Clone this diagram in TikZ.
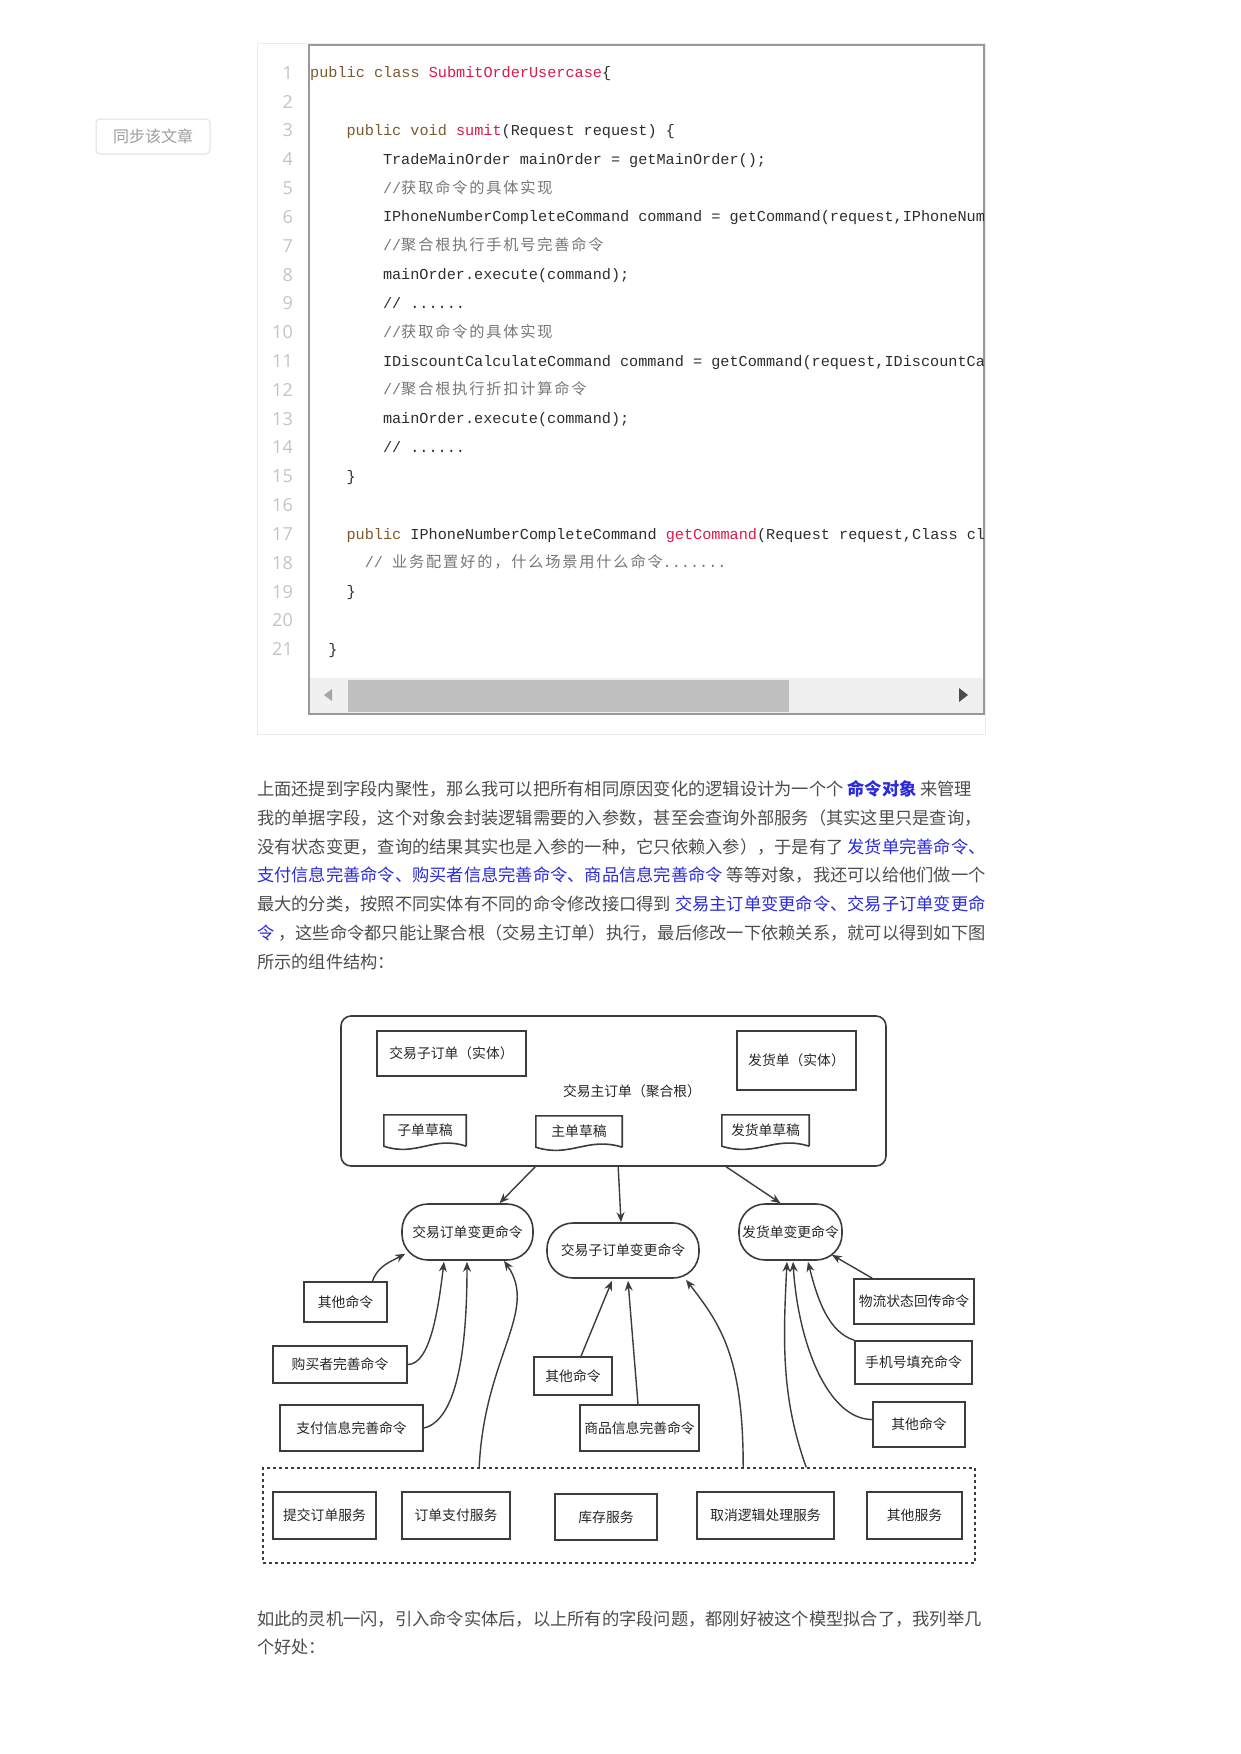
\documentclass[tikz,border=0pt]{standalone}
\usepackage{fontspec}
\usetikzlibrary{arrows.meta,calc}
\newfontfamily\cjk{Noto Sans CJK SC}
\newfontfamily\cjkc[LetterSpace=12.0]{Noto Sans CJK SC}
\newfontfamily\mono{Liberation Mono}
\newfontfamily\numfont{Open Sans}
\definecolor{kwc}{HTML}{7D5A2C}
\definecolor{fnc}{HTML}{DA1B4B}
\definecolor{cmc}{HTML}{777777}
\definecolor{codetx}{HTML}{2E2E2E}
\definecolor{lnumc}{HTML}{C4C4C4}
\definecolor{bodytx}{HTML}{4D4D4D}
\definecolor{linkc}{HTML}{2B2BD9}
\definecolor{dline}{HTML}{3C3C3C}
\newcommand\kw[1]{\textcolor{kwc}{#1}}
\newcommand\fnm[1]{\textcolor{fnc}{#1}}
\newcommand\cmt[2]{\textcolor{cmc}{#1{\cjkc #2}}}
\newcommand\blu[1]{\textcolor{linkc}{#1}}
\newcommand\mydoc[1]{\draw[dline,line width=1.6pt] (#1.south east) -- (#1.north east) -- (#1.north west) -- (#1.south west) .. controls ($(#1.south west)!0.4!(#1.south east)+(0,11)$) and ($(#1.south west)!0.6!(#1.south east)+(0,-11)$) .. (#1.south east);}
\tikzset{
 codeln/.style={anchor=base west, inner sep=0, font=\mono\fontsize{15.2}{18}\selectfont, text=codetx},
 lnumst/.style={anchor=base east, inner sep=0, font=\numfont\fontsize{18}{20}\selectfont, text=lnumc},
 paraln/.style={anchor=base west, inner sep=0, font=\cjk\fontsize{17.25}{20}\selectfont, text=bodytx},
 dbox/.style={draw=dline, line width=1.6pt, inner sep=0, font=\cjk\fontsize{13.8}{16}\selectfont, text=black!85},
 cmdbox/.style={dbox, rounded corners=26pt},
 conn/.style={draw=dline, line width=1.4pt, -{Stealth[length=10pt,width=8pt]}},
}
\begin{document}
\begin{tikzpicture}[x=1pt,y=-1pt]
\fill[white] (0,0) rectangle (1241,1754);
\useasboundingbox (0,0) rectangle (1241,1754);

% sync button
\node[draw=black!12, line width=1pt, rounded corners=4pt, minimum width=114pt, minimum height=35pt, inner sep=0, font=\cjk\fontsize{16}{18}\selectfont, text=black!38] (sync) at (153,136.5) {同步该文章};

% code panel
\draw[black!8, line width=1pt] (257,43) rectangle (985,734);
\fill[white] (309,45) rectangle (984,714);
\fill[black!6] (310,678) rectangle (984,714);
\fill[black!25] (348,680) rectangle (789,712);
\fill[black!35] (332,689) -- (332,701) -- (324,695) -- cycle;
\fill[black!70] (959,688) -- (959,702) -- (968,695) -- cycle;
\draw[black!40, line width=1.4pt] (309,45) -- (984,45) -- (984,714) -- (309,714) -- cycle;

\foreach \i in {1,...,21} \node[lnumst] (n\i) at (293,{72.7+(\i-1)*28.83+6.5}) {\i};

\begin{scope}
\clip (310,46) rectangle (983,677);
\node[codeln] (c1) at (310,77.7) {\kw{public} \kw{class} \fnm{SubmitOrderUsercase}\{};
\node[codeln] (c3) at (346.4,135.4) {\kw{public} \kw{void} \fnm{sumit}(Request request) \{};
\node[codeln] (c4) at (382.8,164.2) {TradeMainOrder mainOrder = getMainOrder();};
\node[codeln] (c5) at (382.8,193.0) {\cmt{//}{获取命令的具体实现}};
\node[codeln] (c6) at (382.8,221.9) {IPhoneNumberCompleteCommand command = getCommand(request,IPhoneNum};
\node[codeln] (c7) at (382.8,250.7) {\cmt{//}{聚合根执行手机号完善命令}};
\node[codeln] (c8) at (382.8,279.5) {mainOrder.execute(command);};
\node[codeln] (c9) at (382.8,308.3) {// ......};
\node[codeln] (c10) at (382.8,337.2) {\cmt{//}{获取命令的具体实现}};
\node[codeln] (c11) at (382.8,366.0) {IDiscountCalculateCommand command = getCommand(request,IDiscountCa};
\node[codeln] (c12) at (382.8,394.8) {\cmt{//}{聚合根执行折扣计算命令}};
\node[codeln] (c13) at (382.8,423.7) {mainOrder.execute(command);};
\node[codeln] (c14) at (382.8,452.5) {// ......};
\node[codeln] (c15) at (346.4,481.3) {\}};
\node[codeln] (c17) at (346.4,539.0) {\kw{public} IPhoneNumberCompleteCommand \fnm{getCommand}(Request request,Class cl};
\node[codeln] (c18) at (364.6,567.8) {\textcolor{cmc}{// {\cjkc 业务配置好的，什么场景用什么命令}.......}};
\node[codeln] (c19) at (346.4,596.6) {\}};
\node[codeln] (c21) at (328.2,654.3) {\}};
\end{scope}

% paragraph
\node[paraln] (p1) at (257,795.5) {上面还提到字段内聚性，那么我可以把所有相同原因变化的逻辑设计为一个个 \textcolor{linkc}{\bfseries 命令对象} 来管理};
\node[paraln] (p2) at (257,824.5) {我的单据字段，这个对象会封装逻辑需要的入参数，甚至会查询外部服务（其实这里只是查询，};
\node[paraln] (p3) at (257,853.5) {没有状态变更，查询的结果其实也是入参的一种，它只依赖入参），于是有了 \blu{发货单完善命令、}};
\node[paraln] (p4) at (257,881.5) {\blu{支付信息完善命令、购买者信息完善命令、商品信息完善命令} 等等对象，我还可以给他们做一个};
\node[paraln] (p5) at (257,910.5) {最大的分类，按照不同实体有不同的命令修改接口得到 \blu{交易主订单变更命令、交易子订单变更命}};
\node[paraln] (p6) at (257,939.5) {\blu{令} ，这些命令都只能让聚合根（交易主订单）执行，最后修改一下依赖关系，就可以得到如下图};
\node[paraln] (p7) at (257,968.5) {所示的组件结构：};

% diagram: aggregate root
\node[draw=dline, line width=1.6pt, rounded corners=10pt, minimum width=545pt, minimum height=150pt, inner sep=0] (root) at (613.5,1091) {};
\node[inner sep=0, font=\cjk\fontsize{13.8}{16}\selectfont, text=black!85] (rootlbl) at (632,1091) {交易主订单（聚合根）};
\node[dbox, minimum width=149pt, minimum height=45pt] (subent) at (451.5,1053.5) {交易子订单（实体）};
\node[dbox, minimum width=119pt, minimum height=59pt] (shipent) at (796.5,1060.5) {发货单（实体）};
\node[inner sep=0, minimum width=82pt, minimum height=31pt, font=\cjk\fontsize{13.8}{16}\selectfont, text=black!85] (d1) at (425,1130.5) {子单草稿};
\node[inner sep=0, minimum width=86pt, minimum height=31pt, font=\cjk\fontsize{13.8}{16}\selectfont, text=black!85] (d2) at (579,1131.5) {主单草稿};
\node[inner sep=0, minimum width=87pt, minimum height=31pt, font=\cjk\fontsize{13.8}{16}\selectfont, text=black!85] (d3) at (765.5,1130.5) {发货单草稿};
\mydoc{d1}
\mydoc{d2}
\mydoc{d3}

% command nodes
\node[cmdbox, minimum width=131pt, minimum height=56pt] (A) at (467.5,1232) {交易订单变更命令};
\node[cmdbox, minimum width=152pt, minimum height=55pt] (B) at (623,1250.5) {交易子订单变更命令};
\node[cmdbox, minimum width=103pt, minimum height=56pt] (C) at (790.5,1232) {发货单变更命令};

\node[dbox, minimum width=83pt, minimum height=40pt] (L1) at (345.5,1302) {其他命令};
\node[dbox, minimum width=134pt, minimum height=37pt] (L2) at (340,1364.5) {购买者完善命令};
\node[dbox, minimum width=143pt, minimum height=46pt] (L3) at (351.5,1428) {支付信息完善命令};
\node[dbox, minimum width=78pt, minimum height=38pt] (M1) at (573,1376) {其他命令};
\node[dbox, minimum width=119pt, minimum height=46pt] (M2) at (639.5,1428) {商品信息完善命令};
\node[dbox, minimum width=120pt, minimum height=45pt] (R1) at (914,1301.5) {物流状态回传命令};
\node[dbox, minimum width=117pt, minimum height=43pt] (R2) at (913.5,1362.5) {手机号填充命令};
\node[dbox, minimum width=92pt, minimum height=45pt] (R3) at (919,1424.5) {其他命令};

% services
\node[draw=dline, line width=1.6pt, dash pattern=on 3pt off 3pt, minimum width=712pt, minimum height=95pt, inner sep=0] (svc) at (619,1515.5) {};
\node[dbox, minimum width=103pt, minimum height=47pt] (S1) at (324.5,1515.5) {提交订单服务};
\node[dbox, minimum width=108pt, minimum height=47pt] (S2) at (456,1515.5) {订单支付服务};
\node[dbox, minimum width=102pt, minimum height=46pt] (S3) at (606,1517) {库存服务};
\node[dbox, minimum width=137pt, minimum height=47pt] (S4) at (765.5,1515.5) {取消逻辑处理服务};
\node[dbox, minimum width=95pt, minimum height=47pt] (S5) at (914.5,1515.5) {其他服务};

% connectors
\draw[conn] ($(root.south west)+(195,0)$) -- ($(A.north)+(32,0)$);
\draw[conn] ($(root.south west)+(278,0)$) -- ($(B.north)+(-2,0)$);
\draw[conn] ($(root.south west)+(386,0)$) -- ($(C.north)+(-10,0)$);

\draw[conn] ($(L1.north)+(27,0)$) .. controls +(5,-15) and +(-15,8) .. ($(A.south west)+(4,-7)$);
\draw[conn] (L2.east) .. controls +(22,0) and +(-6,50) .. ($(A.south)+(-23.5,1)$);
\draw[conn] (L3.east) .. controls +(35,-8) and +(0,80) .. ($(A.south)+(-0.5,1)$);
\draw[conn] ($(svc.north west)+(217,0)$) .. controls +(5,-110) and +(35,50) .. ($(A.south)+(36.5,0)$);

\draw[conn] ($(M1.north)+(8,0)$) -- ($(B.south)+(-11,2)$);
\draw[conn] ($(M2.north)+(-1.5,0)$) -- ($(B.south)+(5,2)$);
\draw[conn] ($(svc.north west)+(481,0)$) .. controls +(0,-110) and +(35,45) .. ($(B.south)+(63,1)$);

\draw[conn] ($(svc.north west)+(544,0)$) .. controls +(-25,-70) and +(-4,80) .. ($(C.south)+(-3.5,1)$);
\draw[conn] ($(R3.west)+(0,-5)$) .. controls +(-45,0) and +(5,80) .. ($(C.south)+(2.5,1)$);
\draw[conn] (R2.north west) .. controls +(-25,-8) and +(10,40) .. ($(C.south)+(17.5,1)$);
\draw[conn] ($(R1.north west)+(19,0)$) -- ($(C.south east)+(-11,-6)$);

% closing paragraph
\node[paraln] (q1) at (257,1625.5) {如此的灵机一闪，引入命令实体后，以上所有的字段问题，都刚好被这个模型拟合了，我列举几};
\node[paraln] (q2) at (257,1653.5) {个好处：};
\end{tikzpicture}
\end{document}
